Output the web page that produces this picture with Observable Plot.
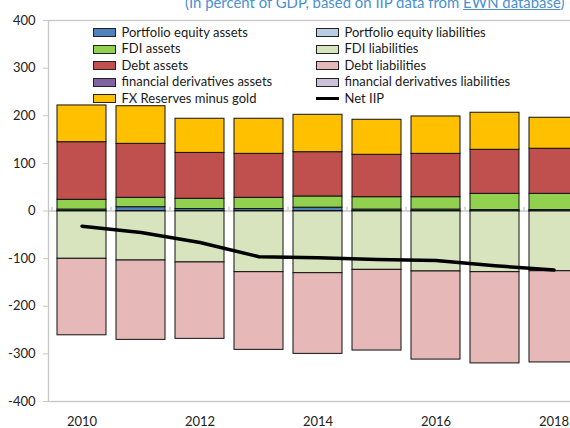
<!DOCTYPE html>
<html><head><meta charset="utf-8">
<script src="https://cdn.jsdelivr.net/npm/d3@7"></script>
<script src="https://cdn.jsdelivr.net/npm/@observablehq/plot@0.6"></script>
<style>
html,body{margin:0;padding:0;background:#fff;}
#wrap{position:relative;width:570px;height:428px;overflow:hidden;font-family:Lato,sans-serif;}
#wrap svg{overflow:hidden !important;display:block;}
#title{position:absolute;left:185px;top:-8px;font-size:14.9px;line-height:20px;color:#4a8fd0;white-space:nowrap;}
#title u{text-decoration:underline;}
.leg{position:absolute;font-size:13px;color:#1a1a1a;white-space:nowrap;line-height:16px;}
.sw{position:absolute;box-sizing:border-box;width:23px;height:9px;border:1px solid #222;}
.ln{position:absolute;width:23px;height:3px;background:#000;}
</style></head>
<body><div id="wrap"><div id="title">(In percent of GDP, based on IIP data from <u>EWN database</u>)</div></div>
<script>
const years = [2010, 2011, 2012, 2013, 2014, 2015, 2016, 2017, 2018];
const xTickLabels = [2010, 2012, 2014, 2016, 2018];
const yTicks = [-400, -300, -200, -100, 0, 100, 200, 300, 400];

const peAssets  = [3, 8, 4, 4, 7, 3, 3, 2, 2];
const peLiab    = [-1, -1, -1, -1, -1, -1, -1, -1, -1];
const fdiAssets = [20.5, 19.7, 21.6, 23.7, 23.5, 26, 26, 34, 34];
const fdiLiab   = [-99.4, -103, -107, -127.5, -129.6, -122.6, -126, -127.5, -125.5];
const debtAssets = [121, 113.3, 96.4, 92.3, 93, 89, 91, 92.5, 94.7];
const debtLiab  = [-160.6, -166.6, -160.5, -163.1, -169.4, -169.4, -185, -191.5, -191.5];
const derivAssets = [0, 0, 0, 0, 0, 0, 0, 0, 0];
const derivLiab = [0, 0, 0, 0, 0, 0, 0, 0, 0];
const fxReserves = [77.1, 79, 71.7, 73.7, 78.5, 73.6, 78.5, 77.8, 65.1];
const netIIP = [-32, -45, -66, -96, -98, -102, -104, -115, -124];

const seriesNames = ["Portfolio equity assets", "Portfolio equity liabilities", "FDI assets", "FDI liabilities",
  "Debt assets", "Debt liabilities", "financial derivatives assets", "financial derivatives liabilities", "FX Reserves minus gold"];
const seriesColors = ["#4f81bd", "#b9cde5", "#92d050", "#d7e4bd", "#c0504d", "#e6b9b8", "#8064a2", "#ccc1da", "#ffc000"];
const seriesValues = [peAssets, peLiab, fdiAssets, fdiLiab, debtAssets, debtLiab, derivAssets, derivLiab, fxReserves];
const lineName = "Net IIP";

const rows = [];
seriesNames.forEach((s, i) => years.forEach((y, j) => rows.push({year: y, series: s, value: seriesValues[i][j]})));
const lineRows = years.map((y, i) => ({year: y, value: netIIP[i]}));

const gray = "#c6c6c6";
const chart = Plot.plot({
  width: 570, height: 428,
  marginLeft: 48, marginTop: 20, marginBottom: 27, marginRight: 0,
  style: {fontFamily: "Lato, sans-serif", fontSize: "13px", color: "#222", background: "transparent"},
  x: {type: "band", domain: years, range: [48, 587], paddingInner: 0.17, paddingOuter: 0.085, label: null},
  y: {domain: [-400, 400], label: null},
  color: {domain: seriesNames, range: seriesColors},
  marks: [
    Plot.frame({stroke: gray, strokeWidth: 1.3, insetRight: -4}),
    Plot.ruleY([0], {stroke: gray, strokeWidth: 1.3}),
    Plot.ruleX(years, {x: d => d, y1: 0, y2: 8, dx: -30, stroke: gray, strokeWidth: 1.3}),
    Plot.barY(rows, {x: "year", y: "value", fill: "series", stroke: "#111", strokeWidth: 1, order: seriesNames}),
    Plot.line(lineRows, {x: "year", y: "value", stroke: "#000", strokeWidth: 3.5}),
    Plot.axisY({ticks: yTicks, tickSize: 5, tickPadding: 8, tickFormat: d => String(d), stroke: gray, fill: "#222"}),
    Plot.axisX({ticks: xTickLabels, tickSize: 0, tickPadding: 15, tickFormat: d => String(d), fill: "#222"})
  ]
});
const wrap = document.getElementById("wrap");
wrap.insertBefore(chart, wrap.firstChild);

// legend (two columns inside the plot area)
const legendItems = [
  [seriesNames[0], seriesColors[0], 0, 0], [seriesNames[1], seriesColors[1], 1, 0],
  [seriesNames[2], seriesColors[2], 0, 1], [seriesNames[3], seriesColors[3], 1, 1],
  [seriesNames[4], seriesColors[4], 0, 2], [seriesNames[5], seriesColors[5], 1, 2],
  [seriesNames[6], seriesColors[6], 0, 3], [seriesNames[7], seriesColors[7], 1, 3],
  [seriesNames[8], seriesColors[8], 0, 4], [lineName, null, 1, 4]
];
const colX = [93, 316];
for (const [name, color, col, row] of legendItems) {
  const cy = 32.5 + row * 16.6;
  const sw = document.createElement("div");
  if (color) {
    sw.className = "sw";
    sw.style.background = color;
    sw.style.top = (cy - 4.5) + "px";
  } else {
    sw.className = "ln";
    sw.style.top = (cy - 1.5) + "px";
  }
  sw.style.left = colX[col] + "px";
  wrap.appendChild(sw);
  const t = document.createElement("div");
  t.className = "leg";
  t.textContent = name;
  t.style.left = (colX[col] + 28.5) + "px";
  t.style.top = (cy - 9) + "px";
  wrap.appendChild(t);
}
</script>
</body></html>
